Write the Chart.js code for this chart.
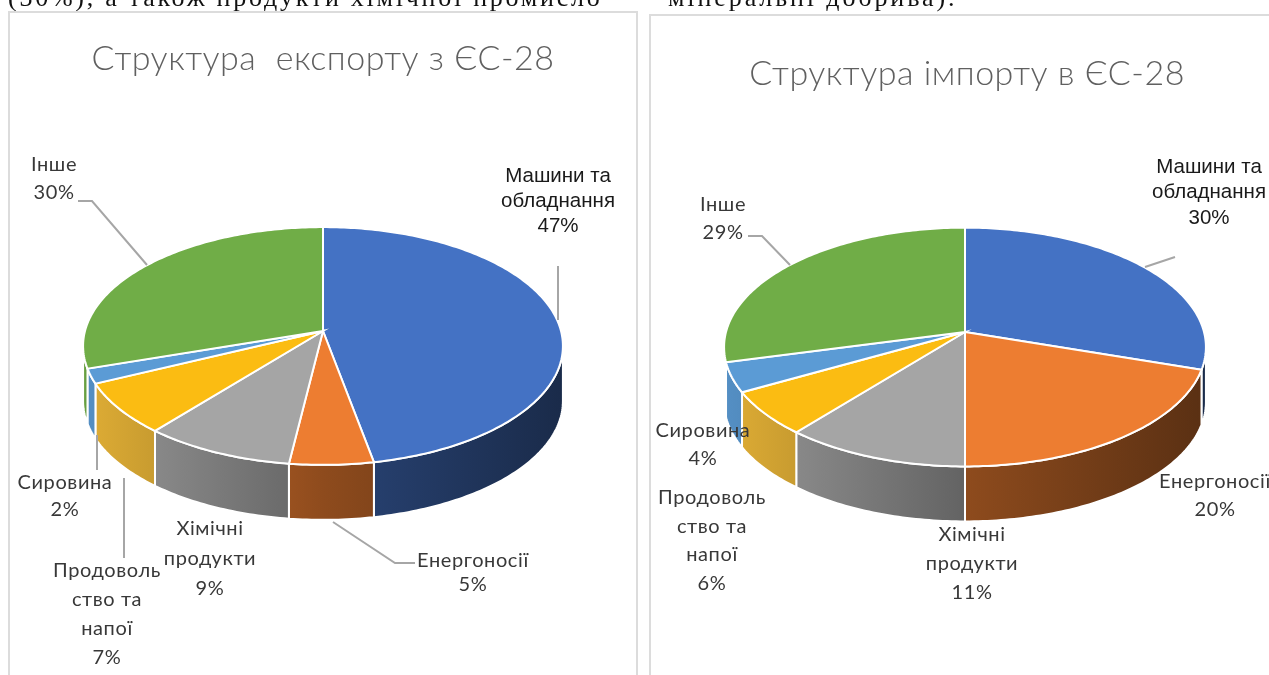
<!DOCTYPE html>
<html lang="uk">
<head>
<meta charset="utf-8">
<title>Структура експорту та імпорту ЄС-28</title>
<script src="https://cdn.jsdelivr.net/npm/chart.js@4"></script>
<style>
  html, body { margin: 0; padding: 0; background: #fff; overflow: hidden; width: 1269px; height: 675px; }
  .line { position: absolute; font-family: "Liberation Serif", serif; font-size: 26px; letter-spacing: 2.9px; color: #111; white-space: nowrap; top: -18px; line-height: 32px; filter: blur(0.4px); }
  .panel { position: absolute; background: #fff; border: 2px solid #dcdcdc; box-sizing: border-box; }
  .panel canvas { position: absolute; left: -2px; top: -2px; filter: blur(0.45px); }
  #p1 { left: 8px; top: 11px; width: 630px; height: 680px; }
  #p2 { left: 649px; top: 14px; width: 640px; height: 680px; }
</style>
</head>
<body>
<div class="line" style="left:8px;letter-spacing:2.75px">(30%), а також продукти хімічної промисло</div>
<div class="line" style="left:668px">мінеральні добрива).</div>
<div class="panel" id="p1"><canvas id="chartExport" width="630" height="664"></canvas></div>
<div class="panel" id="p2"><canvas id="chartImport" width="620" height="661"></canvas></div>
<script>
const categories = ['Машини та обладнання', 'Енергоносії', 'Хімічні продукти', 'Продовольство та напої', 'Сировина', 'Інше'];
const exportValues = [47, 5, 9, 7, 2, 30];
const importValues = [30, 20, 11, 6, 4, 29];
const sliceColors = ['#4472c4', '#ed7d31', '#a5a5a5', '#fbbc12', '#5b9bd5', '#70ad47'];
const wallColors = ['#4472c4', '#ed7d31', '#a5a5a5', '#f2bc3a', '#5b9bd5', '#70ad47'];

// how each category name wraps in the picture
const wrappedNames = [['Машини та', 'обладнання'], ['Енергоносії'], ['Хімічні', 'продукти'], ['Продоволь', 'ство та', 'напої'], ['Сировина'], ['Інше']];

// page coordinates: x centre and first line y, line height
const exportLabelPos = [[558, 176, 25], [473, 561, 24], [210, 529, 30], [107, 571, 29], [65, 483, 27], [54, 165, 28]];
const importLabelPos = [[1209, 167, 25.5], [1215, 482, 28], [972, 535, 29], [712, 498, 28.5], [703, 431, 28], [723, 205, 28]];

const exportLeaders = [[[558, 266], [558, 320]], [[333, 522], [395, 563], [415, 563]], [[124, 478], [124, 558]], [[97, 435], [97, 470]], [[78, 201], [92, 201], [147, 265]]];
const importLeaders = [[[1145, 267], [1175, 257]], [[748, 236], [762, 236], [790, 265]]];

const perspective = 0.126; // front of the disc is nearer to the viewer
const squash = 0.4916;
const depth = 55;

function project(arc, angle) {
  const w = 1 - perspective * Math.sin(angle);
  return [arc.x + arc.outerRadius * Math.cos(angle) / w,
          arc.y + arc.outerRadius * squash * Math.sin(angle) / w];
}

function shade(hex, f) {
  const n = parseInt(hex.slice(1), 16);
  return 'rgb(' + Math.round((n >> 16) * f) + ',' + Math.round(((n >> 8) & 255) * f) + ',' + Math.round((n & 255) * f) + ')';
}

function arcPoints(arc, from, to) {
  const pts = [];
  const steps = Math.max(2, Math.ceil((to - from) * 60));
  for (let i = 0; i <= steps; i++) pts.push(project(arc, from + (to - from) * i / steps));
  return pts;
}

function drawWall(ctx, arc, color) {
  // only the part of the rim facing the viewer
  const lim = Math.asin(perspective);
  let from = arc.startAngle, to = arc.endAngle;
  // angles run from -PI/2 to 3PI/2
  from = Math.max(from, lim);
  to = Math.min(to, Math.PI - lim);
  if (to <= from) return;
  const top = arcPoints(arc, from, to);
  const g = ctx.createLinearGradient(arc.x - arc.outerRadius, 0, arc.x + arc.outerRadius, 0);
  g.addColorStop(0, shade(color, 0.92));
  g.addColorStop(0.5, shade(color, 0.6));
  g.addColorStop(1, shade(color, 0.38));
  ctx.beginPath();
  top.forEach((p, i) => i ? ctx.lineTo(p[0], p[1]) : ctx.moveTo(p[0], p[1]));
  top.slice().reverse().forEach(p => ctx.lineTo(p[0], p[1] + depth));
  ctx.closePath();
  ctx.fillStyle = g;
  ctx.fill();
  ctx.strokeStyle = '#fff';
  ctx.lineWidth = 2;
  ctx.stroke();
}

function drawTop(ctx, arc, color) {
  ctx.beginPath();
  ctx.moveTo(arc.x, arc.y);
  arcPoints(arc, arc.startAngle, arc.endAngle).forEach(p => ctx.lineTo(p[0], p[1]));
  ctx.closePath();
  ctx.fillStyle = color;
  ctx.fill();
  ctx.strokeStyle = '#fff';
  ctx.lineWidth = 2;
  ctx.stroke();
}

const disc3d = {
  id: 'disc3d',
  beforeDatasetDraw(chart, args) {
    const ctx = chart.ctx;
    const arcs = chart.getDatasetMeta(args.index).data;
    ctx.save();
    arcs.forEach((a, i) => drawWall(ctx, a, wallColors[i]));
    arcs.forEach((a, i) => drawTop(ctx, a, sliceColors[i]));
    ctx.restore();
    return false;
  }
};

const chartText = {
  id: 'chartText',
  afterDraw(chart, args, o) {
    const ctx = chart.ctx;
    ctx.save();
    ctx.translate(-o.left, -o.top);
    ctx.strokeStyle = '#a6a6a6';
    ctx.lineWidth = 2;
    o.leaders.forEach(l => {
      ctx.beginPath();
      l.forEach((p, i) => i ? ctx.lineTo(p[0], p[1]) : ctx.moveTo(p[0], p[1]));
      ctx.stroke();
    });
    ctx.textAlign = 'center';
    ctx.textBaseline = 'middle';
    // title
    ctx.fillStyle = '#606060';
    ctx.font = '300 34px Lato';
    ctx.letterSpacing = o.titleSpacing;
    ctx.fillText(o.title, o.titleX, o.titleY);
    // slice labels
    o.values.forEach((v, i) => {
      const pos = o.labelPos[i];
      const lines = wrappedNames[i].concat(v + '%');
      if (i === 0) {
        ctx.font = '20.5px "Liberation Sans"';
        ctx.fillStyle = '#1a1a1a';
        ctx.letterSpacing = '0px';
      } else {
        ctx.font = '20px Lato';
        ctx.fillStyle = '#383838';
        ctx.letterSpacing = '0.6px';
      }
      lines.forEach((t, j) => ctx.fillText(t, pos[0], pos[1] + j * pos[2]));
    });
    ctx.restore();
  }
};

function makeChart(id, values, text, padLeft, padBottom, radius) {
  return new Chart(document.getElementById(id), {
    type: 'pie',
    data: { labels: categories, datasets: [{ data: values, backgroundColor: sliceColors }] },
    options: {
      responsive: false,
      animation: false,
      radius: radius,
      layout: { padding: { left: padLeft, bottom: padBottom } },
      plugins: { legend: { display: false }, tooltip: { enabled: false }, chartText: text }
    },
    plugins: [disc3d, chartText]
  });
}

makeChart('chartExport', exportValues, {
  left: 8, top: 11, title: 'Структура  експорту з ЄС-28', titleX: 323, titleY: 59, titleSpacing: '0.5px',
  values: exportValues, labelPos: exportLabelPos, leaders: exportLeaders
}, 0, 24, 238);

makeChart('chartImport', importValues, {
  left: 649, top: 14, title: 'Структура імпорту в ЄС-28', titleX: 967, titleY: 74, titleSpacing: '0.5px',
  values: importValues, labelPos: importLabelPos, leaders: importLeaders
}, 12, 25, 239);
</script>
</body>
</html>
